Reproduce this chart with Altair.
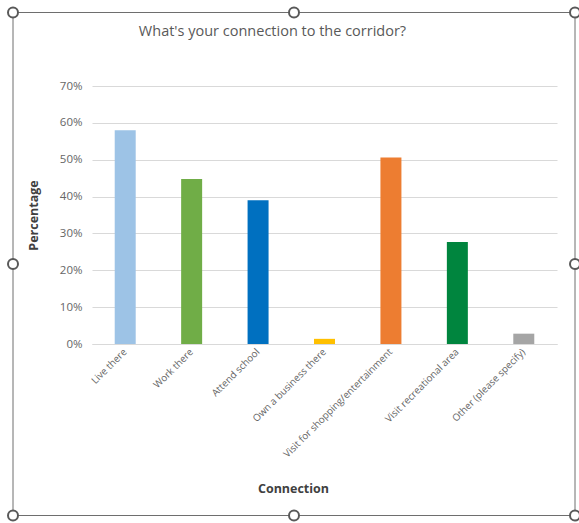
import altair as alt
import pandas as pd

# Survey responses: share of respondents per type of connection
connections = [
    "Live there",
    "Work there",
    "Attend school",
    "Own a business there",
    "Visit for shopping/entertainment",
    "Visit recreational area",
    "Other (please specify)",
]
shares = [0.580, 0.448, 0.390, 0.014, 0.506, 0.277, 0.028]
bar_colors = ["#9dc3e6", "#70ad47", "#0070c0", "#ffc000", "#ed7d31", "#00853e", "#a5a5a5"]
y_ticks = [0, 0.1, 0.2, 0.3, 0.4, 0.5, 0.6, 0.7]
chart_title = "What's your connection to the corridor?"

df = pd.DataFrame({"Connection": connections, "Percentage": shares})

FONT = "Open Sans"
PLOT_W, PLOT_H = 465, 258
PAD_L, PAD_T = 92, 86

bars = (
    alt.Chart(df)
    .mark_bar()
    .encode(
        x=alt.X(
            "Connection:N",
            sort=connections,
            scale=alt.Scale(paddingInner=0.684, paddingOuter=0.342),
            axis=alt.Axis(
                title="Connection",
                labelAngle=-45,
                labelAlign="right",
                labelBaseline="middle",
                labelPadding=6,
                labelFontSize=9.8,
                labelColor="#666666",
                labelFont=FONT,
                labelLimit=300,
                ticks=False,
                domainColor="#d9d9d9",
                titleFont=FONT,
                titleFontSize=12.5,
                titleFontWeight="bold",
                titleColor="#404040",
                titleX=201,
                titleY=144,
                titleBaseline="middle",
            ),
        ),
        y=alt.Y(
            "Percentage:Q",
            scale=alt.Scale(domain=[0, 0.7], nice=False),
            axis=alt.Axis(
                title="Percentage",
                values=y_ticks,
                format=".0%",
                labelFontSize=11.5,
                labelColor="#666666",
                labelFont=FONT,
                labelPadding=10,
                ticks=False,
                domain=False,
                gridColor="#d9d9d9",
                titleFont=FONT,
                titleFontSize=12.5,
                titleFontWeight="bold",
                titleColor="#404040",
                titlePadding=19,
            ),
        ),
        color=alt.Color(
            "Connection:N",
            scale=alt.Scale(domain=connections, range=bar_colors),
            legend=None,
        ),
    )
)

one_row = alt.Data(values=[{}])

# Chart heading, centred over the frame
heading = (
    alt.Chart(one_row)
    .mark_text(font=FONT, fontSize=14.5, color="#595959", align="center", baseline="middle")
    .encode(x=alt.value(272.5 - PAD_L), y=alt.value(32 - PAD_T), text=alt.value(chart_title))
)

# Selection frame around the chart object, with its resize handles
FRAME_L, FRAME_R, FRAME_T, FRAME_B = 13, 575, 12.5, 515.5

frame = (
    alt.Chart(one_row)
    .mark_rect(fill=None, stroke="#6e6e6e", strokeWidth=1)
    .encode(
        x=alt.value(FRAME_L - PAD_L),
        x2=alt.value(FRAME_R - PAD_L),
        y=alt.value(FRAME_T - PAD_T),
        y2=alt.value(FRAME_B - PAD_T),
    )
)

mid_x = (FRAME_L + FRAME_R) / 2
mid_y = (FRAME_T + FRAME_B) / 2
handle_spots = [
    (FRAME_L, FRAME_T), (mid_x, FRAME_T), (FRAME_R, FRAME_T),
    (FRAME_L, mid_y), (FRAME_R, mid_y),
    (FRAME_L, FRAME_B), (mid_x, FRAME_B), (FRAME_R, FRAME_B),
]
handles = [
    alt.Chart(one_row)
    .mark_point(shape="circle", filled=True, fill="white", stroke="#595959",
                strokeWidth=2, size=100, opacity=1)
    .encode(x=alt.value(hx - PAD_L), y=alt.value(hy - PAD_T))
    for hx, hy in handle_spots
]

chart = (
    alt.layer(bars, heading, frame, *handles)
    .properties(
        width=PLOT_W,
        height=PLOT_H,
        autosize=alt.AutoSizeParams(type="none"),
        padding={"left": PAD_L, "top": PAD_T, "right": 579 - PAD_L - PLOT_W, "bottom": 523 - PAD_T - PLOT_H},
        background="white",
    )
    .configure_view(stroke=None)
)

chart.save("out.html", embed_options={"renderer": "svg", "actions": False})
